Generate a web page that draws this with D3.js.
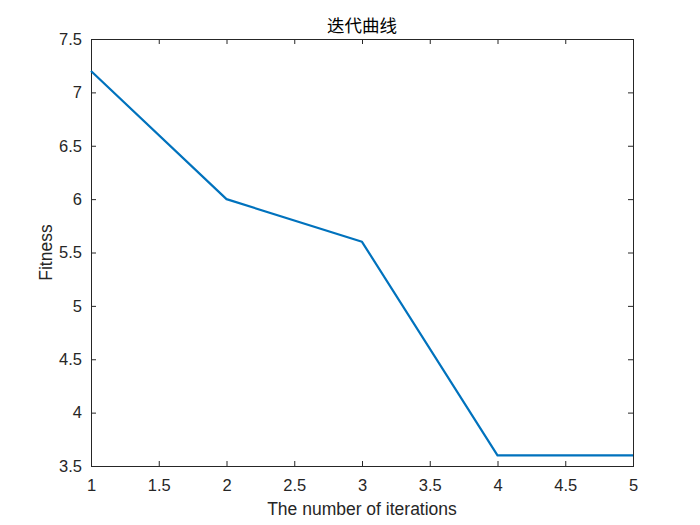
<!DOCTYPE html>
<html><head><meta charset="utf-8">
<script src="https://cdn.jsdelivr.net/npm/d3@7"></script>
<style>body{margin:0;background:#fff}svg{display:block}</style>
</head><body>
<script>
const iterations = [1, 2, 3, 4, 5];
const fitness = [7.2, 6.0, 5.6, 3.6, 3.6];
const xTicks = [1, 1.5, 2, 2.5, 3, 3.5, 4, 4.5, 5];
const yTicks = [3.5, 4, 4.5, 5, 5.5, 6, 6.5, 7, 7.5];
const titleText = "迭代曲线";
const xLabel = "The number of iterations";
const yLabel = "Fitness";

const W = 700, H = 525;
const L = 91, R = 633, T = 39, B = 466;
const svg = d3.select("body").append("svg").attr("width", W).attr("height", H);
svg.append("rect").attr("width", W).attr("height", H).attr("fill", "#fff");

const x = d3.scaleLinear().domain([1, 5]).range([L, R]);
const y = d3.scaleLinear().domain([3.5, 7.5]).range([B, T]);
const font = "'Liberation Sans', Arial, sans-serif";
const tickColor = "#262626";

function styleAxis(g) {
  g.select(".domain").remove();
  g.selectAll(".tick line").attr("stroke", tickColor).attr("stroke-width", 1);
  g.selectAll(".tick text").attr("fill", tickColor).style("font-family", font).style("font-size", "16.5px");
}
const fmt = d => String(d);
svg.append("g").attr("transform", `translate(0,${B})`)
  .call(d3.axisBottom(x).tickValues(xTicks).tickFormat(fmt).tickSizeInner(-5).tickSizeOuter(0).tickPadding(13))
  .call(styleAxis);
svg.append("g").attr("transform", `translate(0,${T})`)
  .call(d3.axisTop(x).tickValues(xTicks).tickFormat("").tickSizeInner(-5).tickSizeOuter(0))
  .call(styleAxis);
svg.append("g").attr("transform", `translate(${L},0)`)
  .call(d3.axisLeft(y).tickValues(yTicks).tickFormat(fmt).tickSizeInner(-5).tickSizeOuter(0).tickPadding(9))
  .call(styleAxis);
svg.append("g").attr("transform", `translate(${R},0)`)
  .call(d3.axisRight(y).tickValues(yTicks).tickFormat("").tickSizeInner(-5).tickSizeOuter(0))
  .call(styleAxis);

svg.append("rect").attr("x", L + 0.5).attr("y", T + 0.5).attr("width", R - L).attr("height", B - T)
  .attr("fill", "none").attr("stroke", tickColor).attr("stroke-width", 1);

const line = d3.line().x((d, i) => x(iterations[i])).y(d => y(d));
svg.append("path").datum(fitness).attr("d", line)
  .attr("fill", "none").attr("stroke", "#0072BD").attr("stroke-width", 2.2).attr("stroke-linejoin", "round");

svg.append("text").attr("x", (L + R) / 2).attr("y", 32).attr("text-anchor", "middle")
  .style("font-family", "'Noto Sans CJK SC', sans-serif").style("font-size", "17.5px").attr("fill", "#000")
  .text(titleText);
svg.append("text").attr("x", (L + R) / 2).attr("y", 515).attr("text-anchor", "middle")
  .style("font-family", font).style("font-size", "17.5px").attr("fill", tickColor).text(xLabel);
svg.append("text").attr("transform", `translate(52,${(T + B) / 2}) rotate(-90)`).attr("text-anchor", "middle")
  .style("font-family", font).style("font-size", "17.5px").attr("fill", tickColor).text(yLabel);
</script>
</body></html>
